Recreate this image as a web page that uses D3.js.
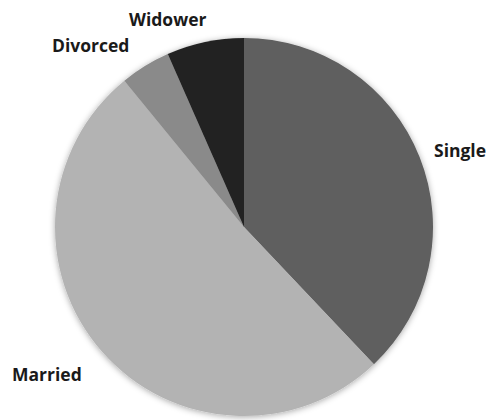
<!DOCTYPE html>
<html>
<head>
  <meta charset="utf-8">
  <script src="https://d3js.org/d3.v7.min.js"></script>
  <style>
    body { margin: 0; background: #fff; }
    svg { display: block; }
    .lbl { font-family: "Open Sans", sans-serif; font-weight: bold; font-size: 17.5px; fill: #1a1a1a; }
  </style>
</head>
<body>
  <svg width="493" height="420"></svg>
  <script>
    // slices, clockwise from 12 o'clock
    var categories = ["Single", "Married", "Divorced", "Widower"];
    var values = [37.9, 51.1, 4.3, 6.6];
    var colours = ["#5f5f5f", "#b3b3b3", "#8a8a8a", "#222222"];
    // label anchor points (left x, baseline y)
    var labelPos = [[434, 157], [12, 381], [52, 52], [129, 26]];

    var svg = d3.select("svg");
    var cx = 244, cy = 227, radius = 189;

    var defs = svg.append("defs");
    var f = defs.append("filter").attr("id", "shadow")
      .attr("x", "-10%").attr("y", "-10%").attr("width", "120%").attr("height", "120%");
    f.append("feDropShadow")
      .attr("dx", 0).attr("dy", 1)
      .attr("stdDeviation", 3)
      .attr("flood-color", "#000")
      .attr("flood-opacity", 0.35);

    var data = categories.map(function(c, i) { return { name: c, value: values[i], i: i }; });

    var pie = d3.pie().sort(null).value(function(d) { return d.value; });
    var arc = d3.arc().innerRadius(0).outerRadius(radius);

    var g = svg.append("g")
      .attr("transform", "translate(" + cx + "," + cy + ")")
      .attr("filter", "url(#shadow)");

    g.selectAll("path")
      .data(pie(data))
      .enter()
      .append("path")
      .attr("d", arc)
      .attr("fill", function(d) { return colours[d.data.i]; });

    svg.selectAll("text.lbl")
      .data(data)
      .enter()
      .append("text")
      .attr("class", "lbl")
      .attr("x", function(d) { return labelPos[d.i][0]; })
      .attr("y", function(d) { return labelPos[d.i][1]; })
      .text(function(d) { return d.name; });
  </script>
</body>
</html>
